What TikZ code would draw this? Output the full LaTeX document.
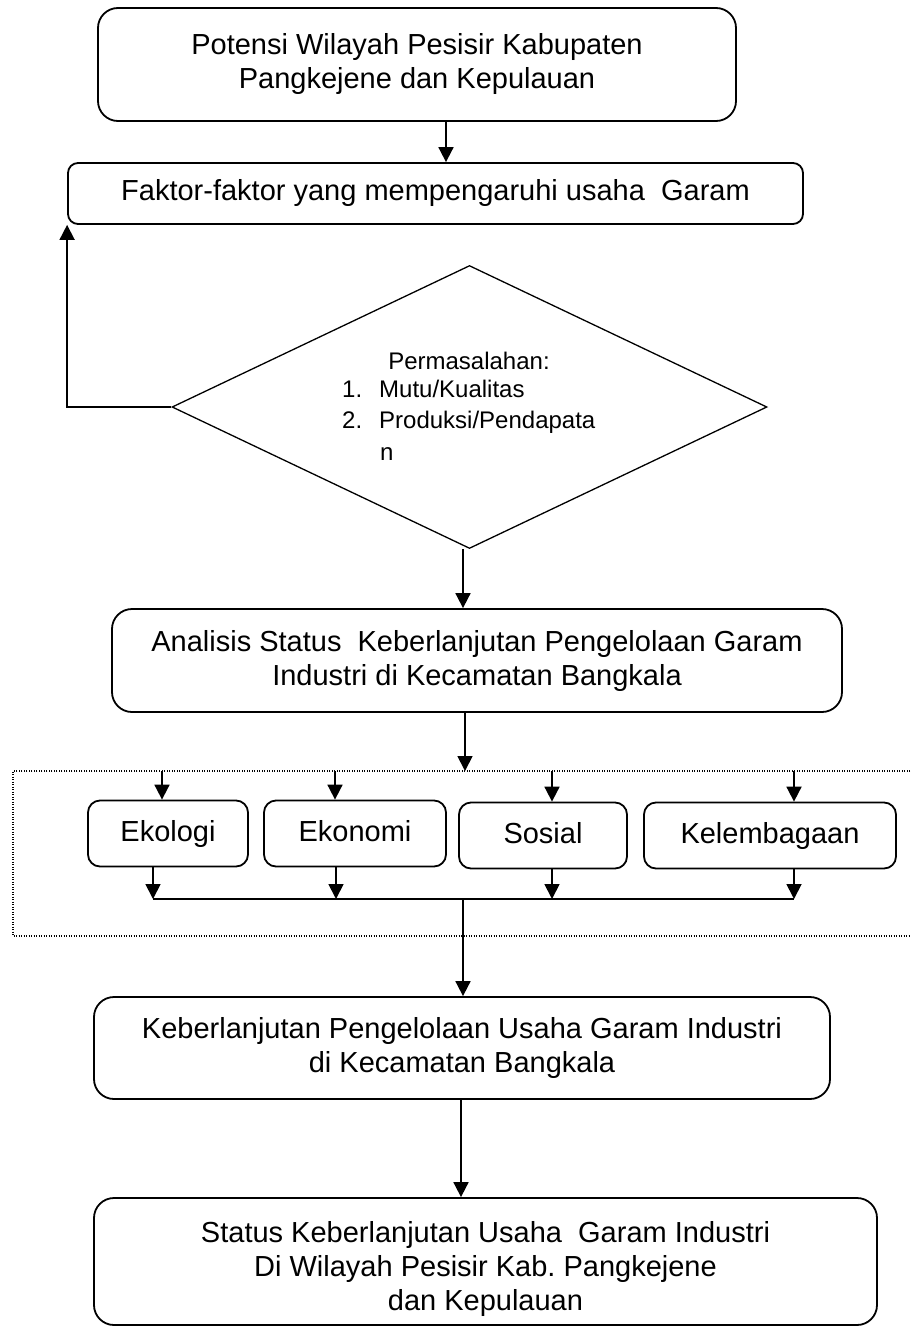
\documentclass[tikz,border=0pt]{standalone}
\usepackage{fontspec}
\setmainfont{Liberation Sans}
\usetikzlibrary{shapes.geometric,arrows.meta}
\frenchspacing

\begin{document}
\begin{tikzpicture}[x=1pt,y=-1pt,
  font=\fontsize{29}{34}\selectfont,
  proc/.style={draw, line width=1.8pt, rounded corners=20pt, align=center, inner sep=0pt},
  smallproc/.style={proc, rounded corners=12pt, minimum height=66, text height=21pt, text depth=6pt},
  flow/.style={line width=1.8pt, -{Triangle[length=15pt,width=15pt]}},
  group/.style={line width=1.2pt, dash pattern=on 1pt off 1.5pt},
  item/.style={inner sep=0pt, anchor=base west, font=\fontsize{24}{28}\selectfont}]
\useasboundingbox (0,0) rectangle (910,1327);

\node[proc, minimum width=638, minimum height=113] (potensi) at (417,64.5) {Potensi Wilayah Pesisir Kabupaten\\Pangkejene dan Kepulauan};
\node[proc, rounded corners=10pt, minimum width=735, minimum height=61] (faktor) at (435.5,193.5) {Faktor-faktor yang mempengaruhi usaha\ \ Garam};

\node[draw, diamond, line width=1.3pt, minimum width=595, minimum height=283, inner sep=0pt] (masalah) at (469.5,407) {};
\node[item, anchor=base] (judul) at (469,369) {Permasalahan:};
\node[item] (mutu) at (342,397) {\makebox[37pt][l]{1.}Mutu/Kualitas};
\node[item] (prod) at (342,428) {\makebox[37pt][l]{2.}Produksi/Pendapata};
\node[item] (prodn) at (380,460) {n};

\node[proc, minimum width=730, minimum height=103] (analisis) at (477,660.5) {Analisis Status\ \ Keberlanjutan Pengelolaan Garam\\Industri di Kecamatan Bangkala};

\node[smallproc, minimum width=160] (eko) at (168,833.5) {Ekologi};
\node[smallproc, minimum width=182] (ekn) at (355,833.5) {Ekonomi};
\node[smallproc, minimum width=168] (sos) at (543,835.5) {Sosial};
\node[smallproc, minimum width=252] (lem) at (770,835.5) {Kelembagaan};

\node[proc, minimum width=736, minimum height=102] (lanjut) at (462,1048) {Keberlanjutan Pengelolaan Usaha Garam Industri\\di Kecamatan Bangkala};
\node[proc, minimum width=783, minimum height=127] (status) at (485.5,1261.5) {\rule{0pt}{35pt}Status Keberlanjutan Usaha\ \ Garam Industri\\Di Wilayah Pesisir Kab. Pangkejene\\dan Kepulauan};

% dotted frame round the four dimensions
\draw[group] (910,771) -- (13,771) -- (13,936) -- (910,936);

\coordinate (c1) at (446,140);
\coordinate (c2) at (463,580);
\coordinate (c3) at (461,1150);
\coordinate (tm) at (465,771);
\coordinate (jm) at (463,899);
\coordinate (t1) at (162,771);
\coordinate (t2) at (335,771);
\coordinate (t3) at (552,771);
\coordinate (t4) at (794,771);
\coordinate (j1) at (153,899);
\coordinate (j2) at (336,899);
\coordinate (j3) at (552,899);
\coordinate (j4) at (794,899);

\draw[flow] (potensi.south -| c1) -- (faktor.north -| c1);
\draw[flow] (masalah.west) -| (faktor.south west);
\draw[flow] (c2 |- masalah.south) -- (c2 |- analisis.north);
\draw[flow] (analisis.south -| tm) -- (tm);
\foreach \b/\i in {eko/1,ekn/2,sos/3,lem/4} {
  \draw[flow] (t\i) -- (t\i |- \b.north);
  \draw[flow] (\b.south -| j\i) -- (j\i);
}
\draw[line width=1.5pt] (j1) -- (j4);
\draw[flow] (jm) -- (lanjut.north -| jm);
\draw[flow] (lanjut.south -| c3) -- (status.north -| c3);
\end{tikzpicture}
\end{document}
